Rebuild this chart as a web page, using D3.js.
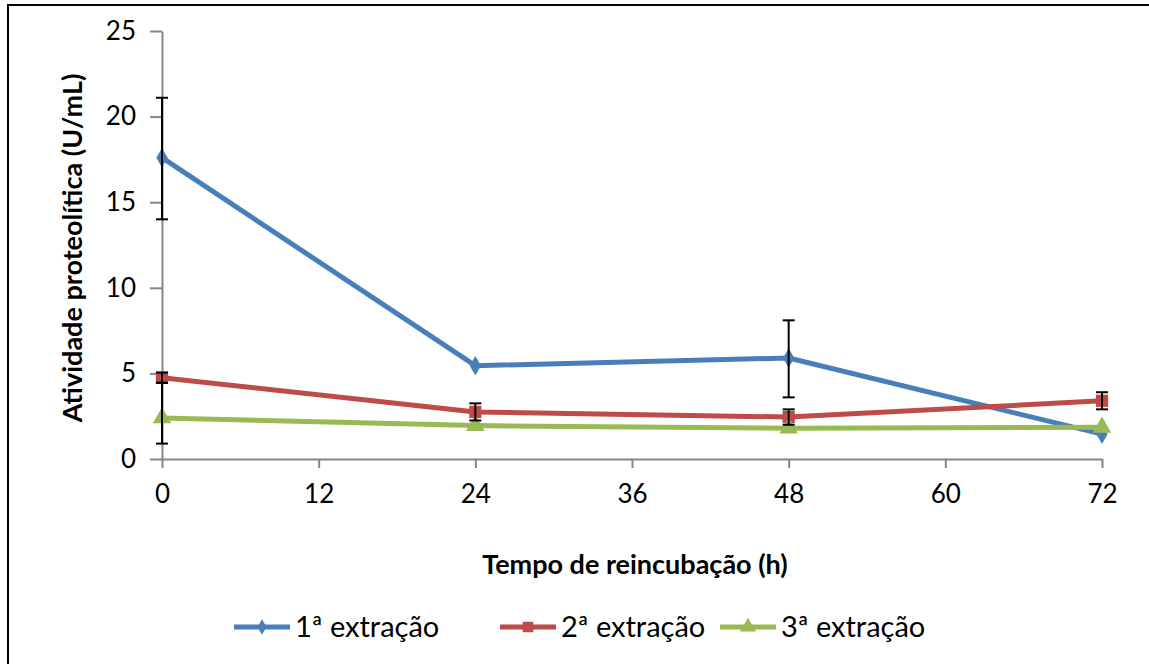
<!DOCTYPE html>
<html>
<head>
<meta charset="utf-8">
<script src="https://cdn.jsdelivr.net/npm/d3@7/dist/d3.min.js"></script>
<style>
  body { margin: 0; background: #fff; }
  svg text { font-family: Lato, "Open Sans", sans-serif; fill: #000; }
</style>
</head>
<body>
<svg id="chart" width="1149" height="664"></svg>
<script>
const hours = [0, 24, 48, 72];
const xTicks = [0, 12, 24, 36, 48, 60, 72];
const yTicks = [0, 5, 10, 15, 20, 25];

const names = ["1ª extração", "2ª extração", "3ª extração"];
const ext1 = [17.6, 5.45, 5.9, 1.45];
const ext2 = [4.75, 2.75, 2.45, 3.4];
const ext3 = [2.4, 1.95, 1.8, 1.85];
// error bars (plus / minus)
const ext1ErrUp = [3.5, 0, 2.2, 0];
const ext1ErrDown = [3.6, 0, 2.3, 0];
const ext2ErrUp = [0.3, 0.5, 0.45, 0.5];
const ext2ErrDown = [0.3, 0.5, 0.45, 0.5];
const ext3ErrUp = [2.05, 0, 0, 0];
const ext3ErrDown = [1.5, 0, 0, 0];

const colors = ["#4A7EBB", "#BE4B48", "#98B954"];
const shapes = [d3.symbolDiamond, d3.symbolSquare, d3.symbolTriangle];

const series = [
  { name: names[0], values: ext1, up: ext1ErrUp, down: ext1ErrDown },
  { name: names[1], values: ext2, up: ext2ErrUp, down: ext2ErrDown },
  { name: names[2], values: ext3, up: ext3ErrUp, down: ext3ErrDown }
];

const svg = d3.select("#chart");

// outer frame (right/bottom fall outside the picture)
svg.append("rect")
  .attr("x", 8).attr("y", 5)
  .attr("width", 1160).attr("height", 680)
  .attr("fill", "none").attr("stroke", "#000").attr("stroke-width", 2);

const x = d3.scaleLinear().domain([0, 72]).range([162, 1102]);
const y = d3.scaleLinear().domain([0, 25]).range([459, 31]);

const xAxis = svg.append("g")
  .attr("transform", `translate(0, ${y(0)})`)
  .call(d3.axisBottom(x).tickValues(xTicks).tickSize(9).tickPadding(13).tickSizeOuter(0));
const yAxis = svg.append("g")
  .attr("transform", `translate(${x(0)}, 0)`)
  .call(d3.axisLeft(y).tickValues(yTicks).tickSize(12).tickPadding(14).tickSizeOuter(0));

[xAxis, yAxis].forEach(g => {
  g.select(".domain").attr("stroke", "#868686").attr("stroke-width", 2);
  g.selectAll(".tick line").attr("stroke", "#868686").attr("stroke-width", 2);
  g.selectAll(".tick text").style("font-size", "26px").attr("fill", "#000");
});
xAxis.selectAll(".tick text").attr("dy", "0.85em");

// axis titles
svg.append("text")
  .attr("x", 635).attr("y", 574)
  .attr("text-anchor", "middle")
  .style("font-size", "27px").style("font-weight", "bold")
  .text("Tempo de reincubação (h)");

svg.append("text")
  .attr("transform", `translate(82, 248) rotate(-90)`)
  .attr("text-anchor", "middle")
  .style("font-size", "27px").style("font-weight", "bold")
  .text("Atividade proteolítica (U/mL)");

const line = d3.line()
  .x((d, i) => x(hours[i]))
  .y(d => y(d));

const plot = svg.append("g");

series.forEach((s, k) => {
  plot.append("path")
    .datum(s.values)
    .attr("d", line)
    .attr("fill", "none")
    .attr("stroke", colors[k])
    .attr("stroke-width", 5)
    .attr("stroke-linejoin", "round");
});

series.forEach((s, k) => {
  const g = plot.append("g");
  g.selectAll("path")
    .data(s.values)
    .enter()
    .append("path")
    .attr("transform", (d, i) => `translate(${x(hours[i])}, ${y(d)})`)
    .attr("d", d3.symbol().type(shapes[k]).size(k === 0 ? 110 : 150))
    .attr("fill", colors[k]);
});

// error bars
series.forEach(s => {
  const g = plot.append("g").attr("stroke", "#000").attr("stroke-width", 2);
  s.values.forEach((v, i) => {
    if (!s.up[i] && !s.down[i]) return;
    const cx = x(hours[i]);
    const top = y(v + s.up[i]);
    const bot = y(v - s.down[i]);
    g.append("line").attr("x1", cx).attr("x2", cx).attr("y1", top).attr("y2", bot);
    g.append("line").attr("x1", cx - 6).attr("x2", cx + 6).attr("y1", top).attr("y2", top);
    g.append("line").attr("x1", cx - 6).attr("x2", cx + 6).attr("y1", bot).attr("y2", bot);
  });
});

// legend
const legendX = [234, 500, 720];
const legend = svg.append("g")
  .selectAll("g")
  .data(series)
  .enter()
  .append("g")
  .attr("transform", (d, i) => `translate(${legendX[i]}, 627)`);

legend.append("line")
  .attr("x1", 0).attr("x2", 56)
  .attr("stroke", (d, i) => colors[i])
  .attr("stroke-width", 5);

legend.append("path")
  .attr("transform", "translate(28, 0)")
  .attr("d", (d, i) => d3.symbol().type(shapes[i]).size(i === 0 ? 70 : 110)())
  .attr("fill", (d, i) => colors[i]);

legend.append("text")
  .attr("x", 61)
  .attr("dy", "0.36em")
  .style("font-size", "29px")
  .text(d => d.name);
</script>
</body>
</html>
